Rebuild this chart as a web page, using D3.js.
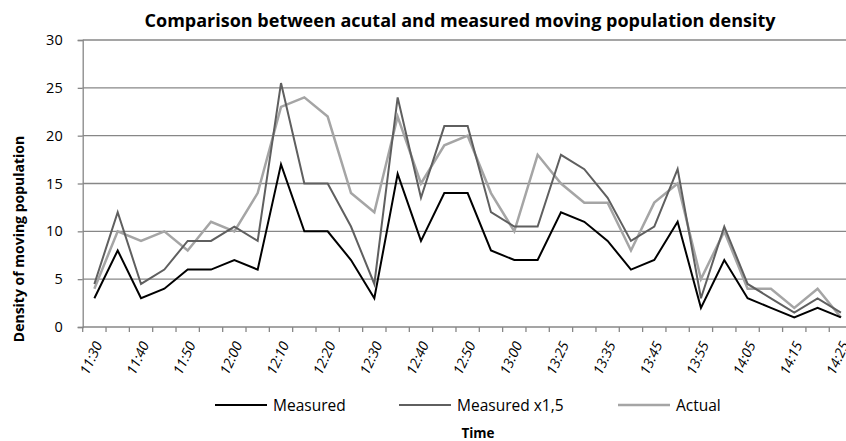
<!DOCTYPE html>
<html>
<head>
<meta charset="utf-8">
<script src="https://cdn.jsdelivr.net/npm/d3@7"></script>
<style>
  html, body { margin: 0; padding: 0; background: #fff; }
  svg { display: block; }
  text { font-family: "Open Sans", Lato, sans-serif; fill: #000; }
</style>
</head>
<body>
<svg id="chart" width="846" height="441"></svg>
<script>
// Time slots (5-minute steps, with a break after 13:00)
const times = ["11:30","11:35","11:40","11:45","11:50","11:55","12:00","12:05","12:10","12:15",
               "12:20","12:25","12:30","12:35","12:40","12:45","12:50","12:55","13:00","13:20",
               "13:25","13:30","13:35","13:40","13:45","13:50","13:55","14:00","14:05","14:10",
               "14:15","14:20","14:25"];

const measured = [3,8,3,4,6,6,7,6,17,10,10,7,3,16,9,14,14,8,7,7,12,11,9,6,7,11,2,7,3,2,1,2,1];
const measuredX15 = [4.5,12,4.5,6,9,9,10.5,9,25.5,15,15,10.5,4.5,24,13.5,21,21,12,10.5,10.5,
                     18,16.5,13.5,9,10.5,16.5,3,10.5,4.5,3,1.5,3,1.5];
const actual = [4,10,9,10,8,11,10,14,23,24,22,14,12,22,15,19,20,14,10,18,15,13,13,8,13,15,5,10,4,4,2,4,1];

const yTicks = [0,5,10,15,20,25,30];

const series = [
  { name: "Measured",      values: measured,    color: "#000000", width: 2 },
  { name: "Measured x1,5", values: measuredX15, color: "#5f5f5f", width: 2 },
  { name: "Actual",        values: actual,      color: "#a5a5a5", width: 2.5 }
];

const svg = d3.select("#chart");
const plotLeft = 82.7, bandW = 23.33, plotTop = 40, plotBottom = 327;

const x = d3.scaleBand().domain(times).range([plotLeft, plotLeft + bandW * times.length]).padding(0);
const y = d3.scaleLinear().domain([0, 30]).range([plotBottom, plotTop]);
const plotRight = plotLeft + bandW * times.length;

// horizontal gridlines
svg.append("g").selectAll("line").data(yTicks.filter(t => t > 0)).join("line")
  .attr("x1", plotLeft).attr("x2", plotRight)
  .attr("y1", d => y(d)).attr("y2", d => y(d))
  .attr("stroke", "#878787").attr("stroke-width", 1.3);

// y axis
const yAxis = svg.append("g").attr("transform", `translate(${plotLeft},0)`)
  .call(d3.axisLeft(y).tickValues(yTicks).tickSize(5).tickPadding(15));
yAxis.select(".domain").attr("stroke", "#878787").attr("stroke-width", 1.3);
yAxis.selectAll(".tick line").attr("stroke", "#878787").attr("stroke-width", 1.3);
yAxis.selectAll(".tick text").attr("font-size", 14.5).attr("font-family", "'Open Sans', sans-serif").attr("fill", "#1a1a1a");

// x axis: tick marks on band boundaries
const xAxisG = svg.append("g");
xAxisG.append("line").attr("x1", plotLeft).attr("x2", plotRight).attr("y1", plotBottom).attr("y2", plotBottom)
  .attr("stroke", "#878787").attr("stroke-width", 1.3);
xAxisG.selectAll("line.tk").data(d3.range(times.length + 1)).join("line").attr("class", "tk")
  .attr("x1", i => plotLeft + i * bandW).attr("x2", i => plotLeft + i * bandW)
  .attr("y1", plotBottom).attr("y2", plotBottom + 5)
  .attr("stroke", "#878787").attr("stroke-width", 1.3);

// x labels: every other slot, rotated
xAxisG.selectAll("text").data(times.filter((t, i) => i % 2 === 0)).join("text")
  .attr("transform", d => `translate(${x(d) + bandW / 2 + 5},${plotBottom + 16}) rotate(-65)`)
  .attr("text-anchor", "end").attr("dominant-baseline", "middle")
  .attr("font-size", 14).attr("font-style", "italic").attr("fill", "#1a1a1a")
  .text(d => d);

// lines
const line = d3.line()
  .x((d, i) => x(times[i]) + bandW / 2)
  .y(d => y(d));

svg.append("g").selectAll("path").data(series.slice().reverse()).join("path")
  .attr("d", s => line(s.values))
  .attr("fill", "none")
  .attr("stroke", s => s.color)
  .attr("stroke-width", s => s.width)
  .attr("stroke-linejoin", "miter");

// title
svg.append("text").attr("x", 460).attr("y", 27).attr("text-anchor", "middle")
  .attr("font-size", 18).attr("font-weight", "bold")
  .text("Comparison between acutal and measured moving population density");

// y title
svg.append("text").attr("transform", `translate(24,239) rotate(-90)`)
  .attr("text-anchor", "middle").attr("font-size", 14).attr("font-weight", "bold")
  .text("Density of moving population");

// x title
svg.append("text").attr("x", 478).attr("y", 438).attr("text-anchor", "middle")
  .attr("font-size", 13.5).attr("font-weight", "bold").text("Time");

// legend
const legendX = [215, 399, 618];
const lg = svg.append("g").selectAll("g").data(series).join("g")
  .attr("transform", (s, i) => `translate(${legendX[i]},405)`);
lg.append("line").attr("x1", 0).attr("x2", 52).attr("y1", 0).attr("y2", 0)
  .attr("stroke", s => s.color).attr("stroke-width", s => s.width);
lg.append("text").attr("x", 58).attr("y", 0).attr("dominant-baseline", "central")
  .attr("font-size", 15.5).attr("fill", "#1a1a1a").text(s => s.name);
</script>
</body>
</html>
